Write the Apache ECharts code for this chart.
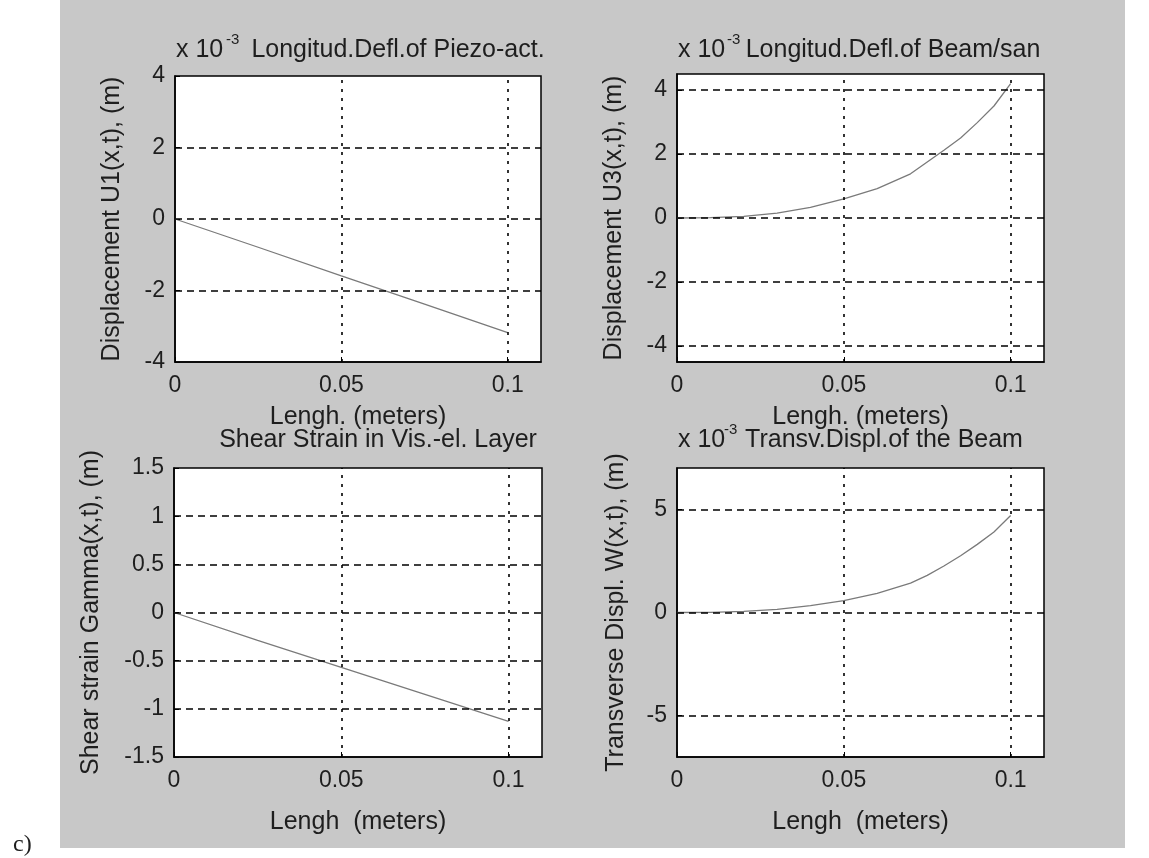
<!DOCTYPE html>
<html><head><meta charset="utf-8">
<script src="https://cdn.jsdelivr.net/npm/echarts@6/dist/echarts.min.js"></script>
<style>
html,body{margin:0;padding:0;background:#fff;}
#bg{position:absolute;left:60px;top:0;width:1065px;height:848px;background:#c8c8c8;}
#c{position:absolute;left:0;top:0;width:1149px;height:858px;}
</style></head><body>
<div id="bg"></div><div id="c"></div>
<script>
// ---- data ----
const xTicks = [0, 0.05, 0.1];
const yTicksU1 = [-4, -2, 0, 2, 4];
const yTicksU3 = [-4, -2, 0, 2, 4];
const yTicksG = [-1.5, -1, -0.5, 0, 0.5, 1, 1.5];
const yTicksW = [-5, 0, 5];

const xLin = [0, 0.025, 0.05, 0.075, 0.1];
const u1 = [0, -0.79, -1.59, -2.38, -3.18];
const gamma = [0, -0.29, -0.57, -0.85, -1.13];

const xCurve = [0, 0.01, 0.02, 0.03, 0.04, 0.05, 0.06, 0.07, 0.075, 0.08, 0.085, 0.09, 0.095, 0.1];
const u3 = [0, 0.01, 0.05, 0.15, 0.33, 0.6, 0.92, 1.38, 1.75, 2.12, 2.5, 2.98, 3.5, 4.2];
const w  = [0, 0.01, 0.05, 0.15, 0.33, 0.58, 0.93, 1.42, 1.8, 2.25, 2.75, 3.3, 3.9, 4.7];

const titles = ['Longitud.Defl.of Piezo-act.', 'Longitud.Defl.of Beam/san', 'Shear Strain in Vis.-el. Layer', 'Transv.Displ.of the Beam'];
const yNames = ['Displacement U1(x,t), (m)', 'Displacement U3(x,t), (m)', 'Shear strain Gamma(x,t), (m)', 'Transverse Displ. W(x,t), (m)'];
const xNames = ['Lengh. (meters)', 'Lengh. (meters)', 'Lengh  (meters)', 'Lengh  (meters)'];

// ---- styling ----
const FF = '"Liberation Sans", Arial, sans-serif';
const TXT = '#1e1e1e';
const grids = [
  {left: 175, top: 76, width: 366, height: 286},
  {left: 677, top: 74, width: 367, height: 288},
  {left: 174, top: 468, width: 368, height: 289},
  {left: 677, top: 468, width: 367, height: 289}
];
const yRanges = [[-4, 4], [-4.5, 4.5], [-1.5, 1.5], [-7, 7]];
const yTickSets = [yTicksU1, yTicksU3, yTicksG, yTicksW];
const yNameGaps = [50, 50, 70, 48];
const xNameGaps = [43, 43, 53, 53];
const seriesData = [
  xLin.map((x, i) => [x, u1[i]]),
  xCurve.map((x, i) => [x, u3[i]]),
  xLin.map((x, i) => [x, gamma[i]]),
  xCurve.map((x, i) => [x, w[i]])
];

const hStyle = {color: '#000', type: [7, 5], width: 1.5};
const vStyle = {color: '#000', type: [3, 6], width: 1.6};

function gridLines(i) {
  const d = [];
  yTickSets[i].forEach(v => {
    if (v > yRanges[i][0] && v < yRanges[i][1]) d.push({yAxis: v, lineStyle: hStyle});
  });
  xTicks.forEach(v => { if (v > 0) d.push({xAxis: v, lineStyle: vStyle}); });
  return d;
}

function txt(x, y, text, size, align, family) {
  return {type: 'text', x: x, y: y, style: {text: text, fontSize: size, fontFamily: family || FF, fill: TXT,
    align: align, verticalAlign: 'middle', textAlign: align, textVerticalAlign: 'middle'}};
}

const option = {
  animation: false,
  grid: grids.map(g => Object.assign({show: true, backgroundColor: '#fff', borderColor: '#000', borderWidth: 1.5, containLabel: false}, g)),
  xAxis: grids.map((g, i) => ({
    gridIndex: i, type: 'value', min: 0, max: 0.11,
    name: xNames[i], nameLocation: 'middle', nameGap: xNameGaps[i],
    nameTextStyle: {fontSize: 25, color: TXT, fontFamily: FF},
    axisLine: {show: true, onZero: false, lineStyle: {color: '#000', width: 1.5}},
    axisTick: {show: true, inside: true, length: 5, customValues: xTicks, lineStyle: {color: '#000'}},
    axisLabel: {customValues: xTicks, fontSize: 23, margin: 12, color: TXT, fontFamily: FF},
    splitLine: {show: false}
  })),
  yAxis: grids.map((g, i) => ({
    gridIndex: i, type: 'value', min: yRanges[i][0], max: yRanges[i][1],
    name: yNames[i], nameLocation: 'middle', nameGap: yNameGaps[i], nameRotate: 90,
    nameTextStyle: {fontSize: 25, color: TXT, fontFamily: FF},
    axisLine: {show: true, onZero: false, lineStyle: {color: '#000', width: 1.5}},
    axisTick: {show: true, inside: true, length: 5, customValues: yTickSets[i], lineStyle: {color: '#000'}},
    axisLabel: {customValues: yTickSets[i], fontSize: 23, margin: 10, color: TXT, fontFamily: FF},
    splitLine: {show: false}
  })),
  series: seriesData.map((d, i) => ({
    type: 'line', xAxisIndex: i, yAxisIndex: i, data: d,
    showSymbol: false, smooth: false,
    lineStyle: {color: '#7a7a7a', width: 1.3},
    markLine: {silent: true, symbol: ['none', 'none'], label: {show: false}, data: gridLines(i)}
  })),
  graphic: [
    txt(176, 50, 'x 10', 25, 'left'),
    txt(226, 40, '-3', 15, 'left'),
    txt(678, 50, 'x 10', 25, 'left'),
    txt(727, 40, '-3', 15, 'left'),
    txt(678, 440, 'x 10', 25, 'left'),
    txt(724, 430, '-3', 15, 'left'),
    txt(398, 50, titles[0], 25, 'center'),
    txt(893, 50, titles[1], 25, 'center'),
    txt(378, 440, titles[2], 25, 'center'),
    txt(884, 440, titles[3], 25, 'center'),
    txt(13, 845, 'c)', 24, 'left', '"Liberation Serif", serif')
  ]
};
const chart = echarts.init(document.getElementById('c'), null, {renderer: 'canvas'});
chart.setOption(option);
</script>
</body></html>
